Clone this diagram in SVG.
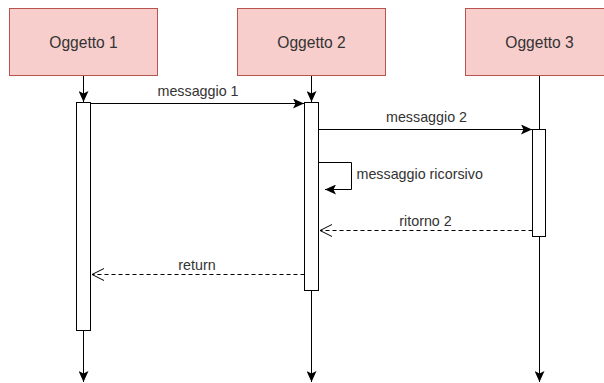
<svg xmlns="http://www.w3.org/2000/svg" width="604" height="383" viewBox="0 0 604 383">
  <defs>
    <style>
      .obj { fill: #f8cecc; stroke: #b85450; stroke-width: 1; }
      .obj-label { font-family: "Liberation Sans", Arial, sans-serif; font-size: 15.6px; fill: #333333; text-anchor: middle; }
      .bar { fill: #ffffff; stroke: #000000; stroke-width: 1; }
      .life { fill: none; stroke: #000000; stroke-width: 1; }
      .msg { fill: none; stroke: #000000; stroke-width: 1; }
      .ret { fill: none; stroke: #000000; stroke-width: 1; stroke-dasharray: 4 3; }
      .msg-label { font-family: "Liberation Sans", Arial, sans-serif; font-size: 14.3px; fill: #333333; text-anchor: middle; }
    </style>
    <marker id="block" viewBox="0 0 11 10" refX="11" refY="5" markerWidth="11" markerHeight="10" markerUnits="userSpaceOnUse" orient="auto">
      <path d="M0,0 L11,5 L0,10 L2.5,5 z" fill="#000000"/>
    </marker>
    <marker id="open" viewBox="0 0 13 14" refX="12" refY="7" markerWidth="13" markerHeight="14" markerUnits="userSpaceOnUse" orient="auto">
      <path d="M0,1 L12,7 L0,13" fill="none" stroke="#000000" stroke-width="1"/>
    </marker>
  </defs>

  <rect width="604" height="383" fill="#ffffff"/>

  <!-- lifelines and calls -->
  <g id="connectors">
    <!-- lifeline segments -->
    <line class="life" x1="83.5" y1="75.5" x2="83.5" y2="102" marker-end="url(#block)"/>
    <line class="life" x1="311.5" y1="75.5" x2="311.5" y2="102" marker-end="url(#block)"/>
    <line class="life" x1="539.5" y1="75.5" x2="539.5" y2="129.5"/>
    <line class="life" x1="83.5" y1="330.5" x2="83.5" y2="382" marker-end="url(#block)"/>
    <line class="life" x1="311.5" y1="290.5" x2="311.5" y2="382" marker-end="url(#block)"/>
    <line class="life" x1="539.5" y1="236.5" x2="539.5" y2="382" marker-end="url(#block)"/>

    <!-- messages -->
    <line class="msg" x1="90.5" y1="103.5" x2="304" y2="103.5" marker-end="url(#block)"/>
    <text class="msg-label" x="198" y="96">messaggio 1</text>

    <line class="msg" x1="318.5" y1="129.5" x2="532" y2="129.5" marker-end="url(#block)"/>
    <text class="msg-label" x="426.5" y="122">messaggio 2</text>

    <path class="msg" d="M318.5,162.5 H351.5 V189.5 H325" marker-end="url(#block)"/>
    <text class="msg-label" x="356.5" y="178.5" style="text-anchor:start">messaggio ricorsivo</text>

    <line class="ret" x1="532.5" y1="230.5" x2="320" y2="230.5" marker-end="url(#open)"/>
    <text class="msg-label" x="425.5" y="226">ritorno 2</text>

    <line class="ret" x1="304.5" y1="274.5" x2="92" y2="274.5" marker-end="url(#open)"/>
    <text class="msg-label" x="197" y="270">return</text>
  </g>

  <g id="oggetto1">
    <rect class="obj" x="9.5" y="8.5" width="148" height="67"/>
    <text class="obj-label" x="83.5" y="48">Oggetto 1</text>
    <rect class="bar" x="76.5" y="102.5" width="14" height="228"/>
  </g>

  <g id="oggetto2">
    <rect class="obj" x="237.5" y="8.5" width="148" height="67"/>
    <text class="obj-label" x="311.5" y="48">Oggetto 2</text>
    <rect class="bar" x="304.5" y="102.5" width="14" height="188"/>
  </g>

  <g id="oggetto3">
    <rect class="obj" x="465.5" y="8.5" width="148" height="67"/>
    <text class="obj-label" x="539.5" y="48">Oggetto 3</text>
    <rect class="bar" x="532.5" y="129.5" width="13" height="107"/>
  </g>
</svg>
